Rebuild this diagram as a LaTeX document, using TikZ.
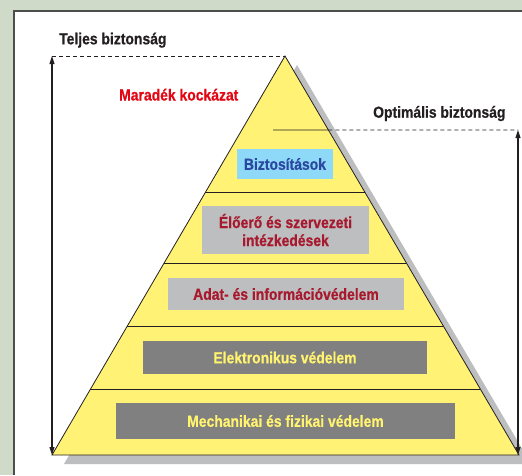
\documentclass[tikz,border=0pt]{standalone}
\usepackage{fontspec}
\setmainfont{Liberation Sans}[FakeStretch=0.87,BoldFeatures={FakeBold=0.6}]
\usetikzlibrary{calc,arrows.meta}

\definecolor{sage}{HTML}{CFDBC8}
\definecolor{panelline}{HTML}{4D4D4D}
\definecolor{pyryellow}{HTML}{FFF275}
\definecolor{shadowgrey}{HTML}{BCBEC0}
\definecolor{lightblue}{HTML}{8ED8F8}
\definecolor{blueink}{HTML}{2B48A0}
\definecolor{darkred}{HTML}{A8192E}
\definecolor{brightred}{HTML}{E30613}
\definecolor{darkgrey}{HTML}{808080}
\definecolor{yellowink}{HTML}{FFF36F}
\definecolor{ink}{HTML}{231F20}

\tikzset{
  lbl/.style={inner sep=0pt, font=\fontsize{16}{18}\selectfont\bfseries},
  box/.style={lbl, align=center},
  topbox/.style={box, fill=lightblue, text=blueink},
  midbox/.style={box, fill=shadowgrey, text=darkred},
  lowbox/.style={box, fill=darkgrey, text=yellowink},
  dashline/.style={ink, line width=.8, dash pattern=on 4pt off 3pt},
  dimarrow/.style={ink, line width=1.1,
    {Triangle[width=5pt,length=8pt]}-{Triangle[width=5pt,length=8pt]}}
}

\begin{document}
\begin{tikzpicture}[x=1pt,y=-1pt]
        \useasboundingbox (0,0) rectangle (522,475);
        \fill[sage] (0,0) rectangle (522,475);
        \fill[white] (14,11) rectangle (522,475);
        \draw[panelline,line width=1.5] (14,475) -- (14,11) -- (522,11);

        \coordinate (apex) at (285,56);
        \coordinate (bl) at (52,455);
        \coordinate (br) at (519,455);

        % pyramid with its shadow
        \fill[shadowgrey] ($(apex)+(12,9)$) -- ($(br)+(12,9)$) -- ($(bl)+(12,9)$) -- cycle;
        \filldraw[draw=ink,fill=pyryellow,line width=.8] (apex) -- (br) -- (bl) -- cycle;
        \foreach \t in {0.343,0.519,0.677,0.835}
            \draw[ink,line width=.8] ($(apex)!\t!(bl)$) -- ($(apex)!\t!(br)$);

        \node[topbox,minimum width=96,minimum height=30] (bizt) at (285,164) {Biztosítások};
        \node[midbox,minimum width=167,minimum height=48] (eloero) at (285.5,230) {Élőerő és szervezeti\\intézkedések};
        \node[midbox,minimum width=236,minimum height=32] (adat) at (286,294) {Adat- és információvédelem};
        \node[lowbox,minimum width=284,minimum height=33] (elektr) at (285,357.5) {Elektronikus védelem};
        \node[lowbox,minimum width=339,minimum height=36] (mech) at (285.5,421) {Mechanikai és fizikai védelem};

        % full security
        \coordinate (teljes) at (52,56);
        \draw[dashline] (teljes) -- (apex);
        \draw[dimarrow] (teljes) -- (bl);
        \node[lbl,text=ink,anchor=base west] (teljesLbl) at (59,44.3) {Teljes biztonság};
        \node[lbl,text=brightred,anchor=base west] (maradek) at (119,100.5) {Maradék kockázat};

        % optimal security
        \coordinate (optL) at (273,130);
        \coordinate (optE) at ($(apex)!0.1855!(br)$);
        \coordinate (optR) at (518,130);
        \coordinate (optB) at (518,455);
        \draw[ink,line width=.8] (optL) -- (optE);
        \draw[dashline] (optE) -- (optR);
        \draw[dimarrow] (optR) -- (optB);
        \node[lbl,text=ink,anchor=base west] (optLbl) at (373,117.7) {Optimális biztonság};
\end{tikzpicture}
\end{document}
